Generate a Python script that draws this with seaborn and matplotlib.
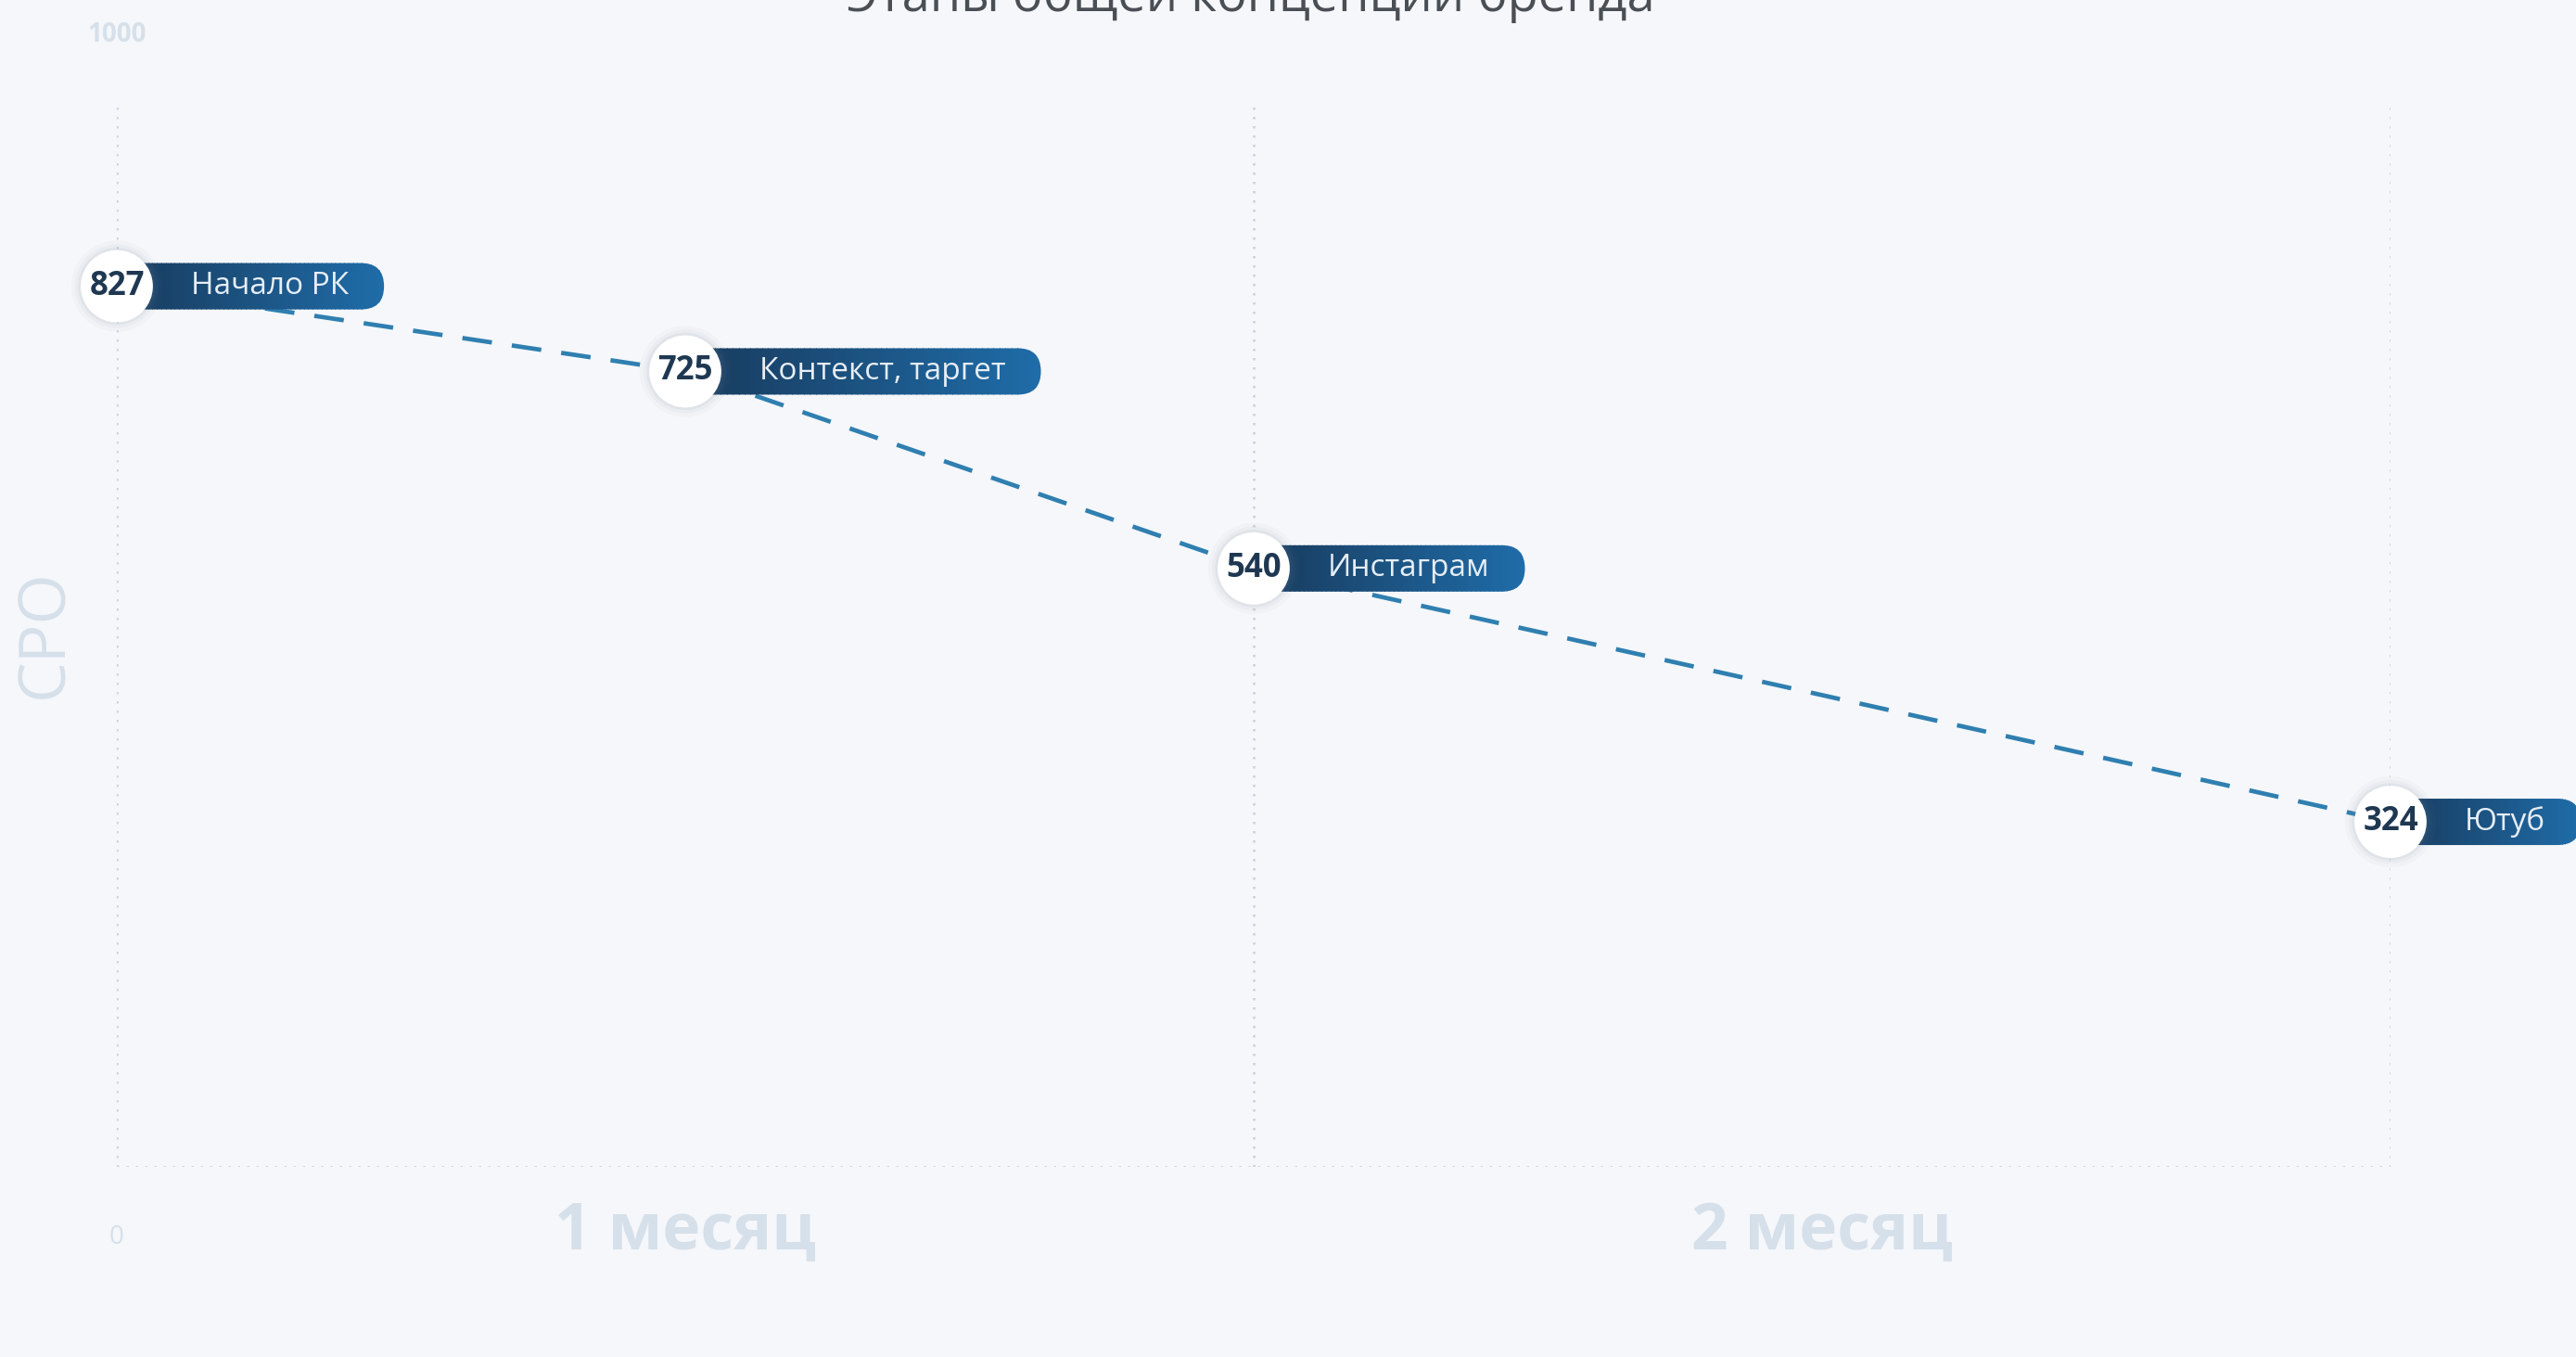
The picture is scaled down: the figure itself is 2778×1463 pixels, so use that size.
import numpy as np
import pandas as pd
import matplotlib
matplotlib.use("Agg")
import matplotlib.pyplot as plt
import seaborn as sns
from matplotlib.patches import FancyBboxPatch, Rectangle
from matplotlib.transforms import IdentityTransform
from matplotlib.colors import to_rgb

# ---- data ----
months = [0, 0.5, 1, 2]
cpo_position = [827, 747, 562, 324]          # vertical position as drawn in the picture
cpo_labels = ["827", "725", "540", "324"]    # values printed in the circles
stage_labels = ["Начало РК", "Контекст, таргет", "Инстаграм", "Ютуб"]
month_labels = ["1 месяц", "2 месяц"]
month_label_pos = [0.5, 1.5]
grid_months = [0, 1, 2]
y_min_label, y_max_label = "0", "1000"
y_title = "CPO"
title = "Этапы общей концепции бренда"

BG = "#f5f7fa"
GRID = "#c9d1da"
LINE = "#2f7fb0"
PALE = "#d6e0ea"
NUM = "#1f3852"
PILL_L = "#183a5c"
PILL_R = "#1f6ca8"

sns.set_theme(style="white")
plt.rcParams['font.family'] = ['Open Sans', 'DejaVu Sans']

W, H, DPI = 2778, 1463, 200
fig = plt.figure(figsize=(W / DPI, H / DPI), dpi=DPI, facecolor=BG)
ax = fig.add_axes([126 / W, (H - 1258) / H, (2578 - 126) / W, (1258 - 110) / H])
ax.set_facecolor(BG)
ax.set_xlim(0, 2)
ax.set_ylim(0, 1000)
ax.axis("off")

# grid
ax.vlines(grid_months, 0, 1000, colors=GRID, linestyles=(0, (1, 3)), lw=0.9, zorder=1)
ax.hlines([0], 0, 2, colors=GRID, linestyles=(0, (1, 3)), lw=0.9, zorder=1)

df = pd.DataFrame({"month": months, "cpo": cpo_position, "stage": stage_labels})

# line
sns.lineplot(data=df, x="month", y="cpo", ax=ax, color=LINE, lw=1.7, zorder=2)
ax.lines[-1].set_linestyle((0, (6.8, 4.6)))

# circles (shadow halo + white)
for s, a in [(1250, 0.04), (1050, 0.06), (900, 0.08)]:
    sns.scatterplot(data=df, x="month", y="cpo", ax=ax, s=s, color="#7d8da0",
                    alpha=a, edgecolor="none", zorder=5, clip_on=False, legend=False)
sns.scatterplot(data=df, x="month", y="cpo", ax=ax, s=784, color="white",
                edgecolor="none", zorder=6, clip_on=False, legend=False)

ax.set_xlabel("")
ax.set_ylabel("")

# numbers and stage labels
label_texts = []
for x, y, num, lab in zip(months, cpo_position, cpo_labels, stage_labels):
    ax.text(x, y, num, ha="center", va="center", fontsize=12.5,
            fontweight="bold", color=NUM, zorder=7, clip_on=False)
    t = ax.annotate(lab, xy=(x, y), xytext=(28.8, 0), textcoords="offset points",
                    ha="left", va="center", fontsize=12, color="#e6eef6",
                    zorder=5.5, annotation_clip=False)
    label_texts.append(t)

# axis texts
for p, lab in zip(month_label_pos, month_labels):
    ax.text(p, -62, lab, ha="center", va="center", fontsize=25, fontweight="bold",
            color=PALE, clip_on=False)
ax.text(0, -66, y_min_label, ha="center", va="center", fontsize=10, color=PALE, clip_on=False)
ax.text(0, 1063, y_max_label, ha="center", va="center", fontsize=10, color=PALE,
        fontweight="bold", clip_on=False)
ax.text(-0.063, 501, y_title, ha="center", va="center", fontsize=25, rotation=90,
        color=PALE, clip_on=False)

fig.text(1349 / W, 1 - 12 / H, title, ha="center", va="baseline", fontsize=19.5, color="#4a4f56")

# pills with gradient
fig.canvas.draw()
renderer = fig.canvas.get_renderer()
cl, cr = np.array(to_rgb(PILL_L)), np.array(to_rgb(PILL_R))
h = 50
for x, y, t in zip(months, cpo_position, label_texts):
    cx, cy = ax.transData.transform((x, y))
    bb = t.get_window_extent(renderer)
    right = bb.x1 + 38
    pill = FancyBboxPatch((cx, cy - h / 2), right - cx, h,
                          boxstyle=f"round,pad=0,rounding_size={h/2}",
                          transform=IdentityTransform())
    n = 60
    xs = np.linspace(cx, right, n + 1)
    for i in range(n):
        f = i / (n - 1)
        r = Rectangle((xs[i], cy - h / 2 - 1), xs[i + 1] - xs[i] + 1, h + 2,
                      transform=IdentityTransform(), facecolor=cl * (1 - f) + cr * f,
                      edgecolor="none", zorder=4)
        r.set_clip_path(pill)
        ax.add_artist(r)

fig.savefig("out.png", dpi=DPI, facecolor=BG)
